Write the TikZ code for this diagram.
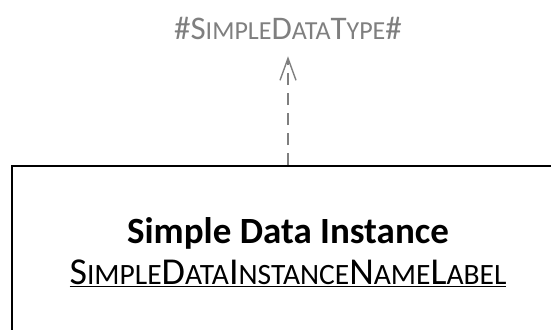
\documentclass[tikz,border=0pt]{standalone}
\usepackage{fontspec}
\setmainfont{Carlito}
\usepackage{xcolor}
\usepackage{tikz}
\usetikzlibrary{positioning,arrows.meta}

\definecolor{typegray}{HTML}{7F7F7F}

% fake small caps: big first letter, smaller rest
\newcommand{\tbig}[1]{{\fontsize{33}{36}\selectfont #1}}
\newcommand{\tsmall}[1]{{\fontsize{26}{30}\selectfont #1}}
\newcommand{\nbig}[1]{{\fontsize{38}{42}\selectfont #1}}
\newcommand{\nsmall}[1]{{\fontsize{29.5}{34}\selectfont #1}}

\begin{document}
\begin{tikzpicture}[x=1pt,y=-1pt]

    \useasboundingbox (0,0) rectangle (551,329);

    % instance box, cut off at the right and at the bottom
    \node[draw, line width=1.6pt, minimum width=552pt, minimum height=172pt,
          align=center, inner sep=0pt] (inst) at (288,252)
        {{\fontsize{37}{40}\selectfont\bfseries Simple Data Instance}\\[10pt]
         \underline{\nbig{S}\nsmall{IMPLE}\nbig{D}\nsmall{ATA}\nbig{I}\nsmall{NSTANCE}\nbig{N}\nsmall{AME}\nbig{L}\nsmall{ABEL}}};

    % data type label
    \node[text=typegray, inner sep=0pt, outer sep=0pt] (type) at (288,28)
        {\tbig{\#S}\tsmall{IMPLE}\tbig{D}\tsmall{ATA}\tbig{T}\tsmall{YPE}\tbig{\#}};

    \draw[typegray, line width=1.4pt, dash pattern=on 12pt off 8pt,
          -{Straight Barb[length=22pt, width=16pt, line width=1.4pt]}]
        (inst.north) -- ([yshift=-17pt]type.south);

\end{tikzpicture}
\end{document}
